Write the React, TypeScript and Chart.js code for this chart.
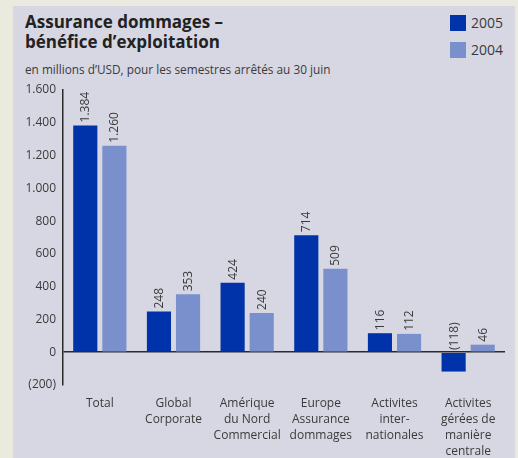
import React, { useEffect, useRef } from "react";
import { Chart, registerables } from "chart.js";

Chart.register(...registerables);

const categories: (string | string[])[] = [
  "Total",
  ["Global", "Corporate"],
  ["Amérique", "du Nord", "Commercial"],
  ["Europe", "Assurance", "dommages"],
  ["Activites", "inter-", "nationales"],
  ["Activites", "gérées de", "manière", "centrale"],
];
const values2005 = [1384, 248, 424, 714, 116, -118];
const values2004 = [1260, 353, 240, 509, 112, 46];
const seriesLabels = ["2005", "2004"];
const yTicks = [-200, 0, 200, 400, 600, 800, 1000, 1200, 1400, 1600];

const COLOR_2005 = "#0033A9";
const COLOR_2004 = "#7A90CC";
const PANEL = "#D7D7E3";
const OUTER = "#EAEADE";
const TEXT = "#3a3a3a";
const FONT = "'Open Sans', 'Noto Sans', sans-serif";

function fmt(v: number): string {
  const abs = Math.abs(v);
  const s = abs >= 1000 ? Math.floor(abs / 1000) + "." + String(abs % 1000).padStart(3, "0") : String(abs);
  return v < 0 ? "(" + s + ")" : s;
}

const valueLabelPlugin = {
  id: "valueLabels",
  afterDatasetsDraw(chart: any) {
    const ctx = chart.ctx;
    ctx.save();
    ctx.font = "12px " + FONT;
    ctx.fillStyle = TEXT;
    ctx.textAlign = "left";
    ctx.textBaseline = "middle";
    chart.data.datasets.forEach((ds: any, di: number) => {
      const meta = chart.getDatasetMeta(di);
      meta.data.forEach((el: any, i: number) => {
        const v = ds.data[i] as number;
        const top = v >= 0 ? el.y : el.base;
        ctx.save();
        ctx.translate(el.x + 0.5, top - 3);
        ctx.rotate(-Math.PI / 2);
        ctx.fillText(fmt(v), 0, 0);
        ctx.restore();
      });
    });
    ctx.restore();
  },
};

export default function App() {
  const ref = useRef<HTMLCanvasElement | null>(null);
  useEffect(() => {
    if (!ref.current) return;
    const chart = new Chart(ref.current, {
      type: "bar",
      data: {
        labels: categories,
        datasets: [
          { label: seriesLabels[0], data: values2005, backgroundColor: COLOR_2005 },
          { label: seriesLabels[1], data: values2004, backgroundColor: COLOR_2004 },
        ],
      },
      options: {
        animation: false,
        responsive: false,
        maintainAspectRatio: false,
        layout: { padding: { left: 0, right: 13, top: 90, bottom: 0 } },
        plugins: { legend: { display: false }, tooltip: { enabled: false } },
        datasets: { bar: { categoryPercentage: 0.79, barPercentage: 0.83 } },
        scales: {
          x: {
            grid: { display: false },
            border: { display: false },
            ticks: {
              color: TEXT,
              font: { family: FONT, size: 12, lineHeight: 1.33 },
              padding: 3,
              maxRotation: 0,
              autoSkip: false,
            },
            afterFit: (s: any) => {
              s.height = 73;
            },
          },
          y: {
            min: -200,
            max: 1600,
            afterBuildTicks: (s: any) => {
              s.ticks = yTicks.map((v) => ({ value: v }));
            },
            grid: {
              drawTicks: false,
              color: (c: any) => (c.tick && c.tick.value === 0 ? "#2a2a2a" : "rgba(0,0,0,0)"),
              lineWidth: 1.5,
            },
            border: { display: true, color: "#2a2a2a", width: 1.5 },
            ticks: {
              color: TEXT,
              font: { family: FONT, size: 12 },
              padding: 7,
              callback: (v: any) => fmt(Number(v)),
            },
            afterFit: (s: any) => {
              s.width = 63;
            },
          },
        },
      },
      plugins: [valueLabelPlugin],
    });
    return () => chart.destroy();
  }, []);

  return (
    <div style={{ position: "fixed", left: 0, top: 0, width: 518, height: 458, background: OUTER, overflow: "hidden", fontFamily: FONT }}>
      <div style={{ position: "absolute", left: 13, top: 6, width: 502, height: 452, background: PANEL }} />
      <div style={{ position: "absolute", left: 25, top: 12, fontWeight: 700, fontSize: 17, lineHeight: "20px", color: "#222" }}>
        <div>Assurance dommages –</div>
        <div>bénéfice d’exploitation</div>
      </div>
      <div style={{ position: "absolute", left: 25, top: 61, fontSize: 11.8, lineHeight: "16px", color: TEXT }}>
        en millions d’USD, pour les semestres arrêtés au 30 juin
      </div>
      {seriesLabels.map((lab, i) => (
        <div key={lab} style={{ position: "absolute", left: 450, top: 15 + i * 27, height: 16, display: "flex", alignItems: "center" }}>
          <div style={{ width: 16, height: 16, background: i === 0 ? COLOR_2005 : COLOR_2004 }} />
          <span style={{ marginLeft: 5, fontSize: 14, color: TEXT, lineHeight: "16px" }}>{lab}</span>
        </div>
      ))}
      <canvas ref={ref} width={518} height={458} style={{ position: "absolute", left: 0, top: 0, width: 518, height: 458 }} />
    </div>
  );
}
